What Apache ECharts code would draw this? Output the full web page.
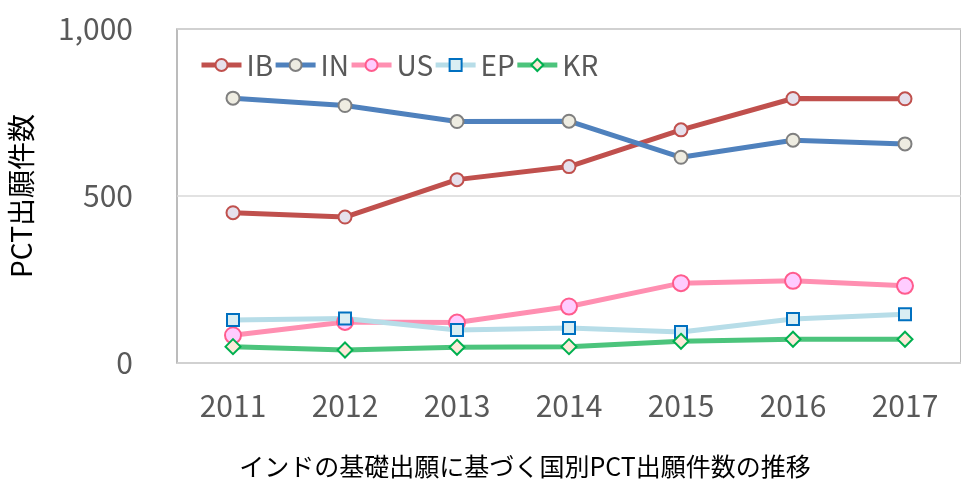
<!DOCTYPE html>
<html><head><meta charset="utf-8">
<script src="https://cdn.jsdelivr.net/npm/echarts@6/dist/echarts.min.js"></script>
<style>html,body{margin:0;padding:0;background:#fff}#c{width:961px;height:480px}</style>
</head><body><div id="c"></div>
<script>
var years = ['2011','2012','2013','2014','2015','2016','2017'];
var IB = [450, 437, 549, 588, 698, 792, 791];
var IN = [793, 771, 723, 724, 616, 667, 656];
var US = [83, 123, 121, 169, 239, 246, 231];
var EP = [129, 133, 99, 105, 93, 132, 146];
var KR = [49, 39, 47, 49, 65, 71, 71];
var yTicks = [0, 500, 1000];
var seriesNames = ['IB','IN','US','EP','KR'];

var FONT = '"Noto Sans CJK JP", "Noto Sans", sans-serif';
function mk(name, data, lineColor, fill, border, symbol, size) {
  return {
    name: name, type: 'line', data: data, symbol: symbol, symbolSize: size,
    lineStyle: {color: lineColor, width: 5},
    itemStyle: {color: fill, borderColor: border, borderWidth: 2},
    emphasis: {disabled: true}, z: 2
  };
}
var legendWidths = [32, 33, 37, 31, 36];
var chart = echarts.init(document.getElementById('c'), null, {renderer: 'canvas'});
chart.setOption({
  animation: false,
  textStyle: {fontFamily: FONT},
  title: {
    text: 'インドの基礎出願に基づく国別PCT出願件数の推移',
    left: 520, top: 449, textAlign: 'center',
    textStyle: {fontFamily: FONT, fontSize: 25, fontWeight: 'normal', color: '#000'}
  },
  legend: {
    left: 199, top: 51, padding: 0, itemWidth: 40, itemHeight: 15, itemGap: 0,
    lineStyle: {width: 5},
    textStyle: {fontFamily: FONT, fontSize: 28, color: '#595959'},
    data: seriesNames.map(function(n, i){ return {name: n, textStyle: {width: legendWidths[i], overflow: 'none'}}; })
  },
  grid: {left: 177, top: 29, width: 784, height: 334, show: true, borderColor: '#a6a6a6', borderWidth: 1.5,
    containLabel: false, outerBoundsMode: 'none'},
  xAxis: {
    type: 'category', data: years, boundaryGap: true,
    axisLine: {show: false}, axisTick: {show: false},
    axisLabel: {fontFamily: FONT, fontSize: 30, color: '#595959', margin: 28}
  },
  yAxis: {
    type: 'value', min: yTicks[0], max: yTicks[2], interval: 500,
    name: 'PCT出願件数', nameLocation: 'middle', nameGap: 142,
    nameTextStyle: {fontFamily: FONT, fontSize: 28, color: '#000'},
    axisLine: {show: false}, axisTick: {show: false},
    axisLabel: {fontFamily: FONT, fontSize: 30, color: '#595959', margin: 44,
      formatter: function(v){ return v.toLocaleString('en-US'); }},
    splitLine: {lineStyle: {color: '#d9d9d9', width: 1.5}}
  },
  series: [
    mk('IB', IB, '#C0504D', '#E6E0EC', '#C0504D', 'circle', 13),
    mk('IN', IN, '#4F81BD', '#EEECE1', '#7F7F7F', 'circle', 13),
    mk('US', US, '#FF8FB1', '#FFCCFF', '#FF5C8D', 'circle', 16),
    mk('EP', EP, '#B7DDE8', '#DAEEF3', '#0070C0', 'rect', 12),
    mk('KR', KR, '#4CC47C', '#FDE9D9', '#00B050', 'diamond', 15)
  ]
});
</script></body></html>
